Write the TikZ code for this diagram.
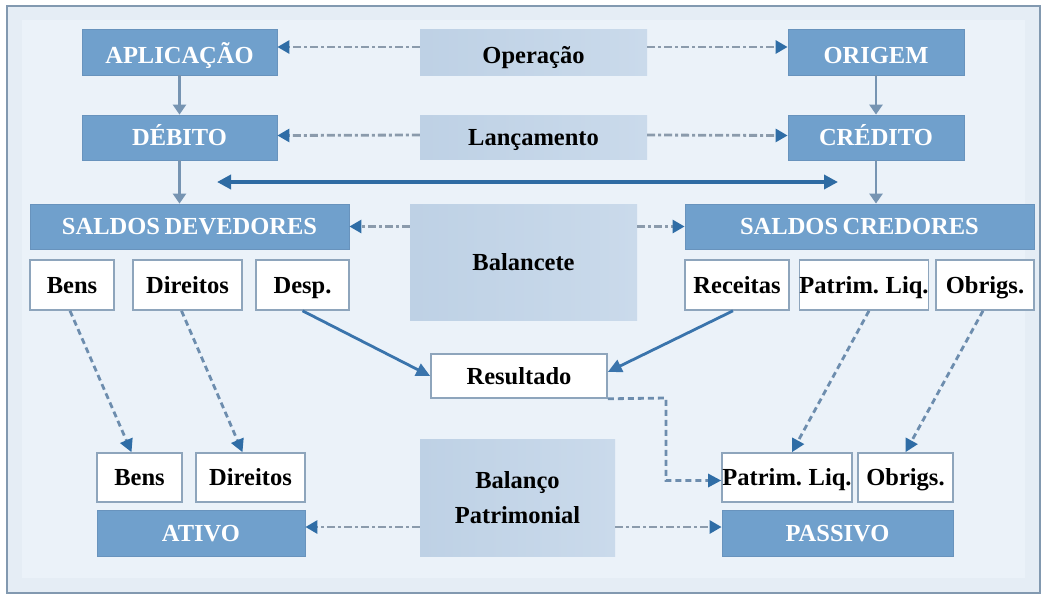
\documentclass[tikz,border=0pt]{standalone}
\usepackage{fontspec}
\setmainfont[WordSpace=0.75]{Liberation Serif}
\usetikzlibrary{arrows.meta,calc}
\definecolor{bgfill}{HTML}{E5EDF5}
\definecolor{bginner}{HTML}{EBF2F9}
\definecolor{frameclr}{HTML}{8299B0}
\definecolor{dkfill}{HTML}{70A0CC}
\definecolor{dkborder}{HTML}{6893BD}
\definecolor{ltleft}{HTML}{BED1E5}
\definecolor{ltright}{HTML}{CADAEB}
\definecolor{wborder}{HTML}{8EA5BC}
\definecolor{grayline}{HTML}{7694B2}
\definecolor{ddline}{HTML}{8B9BAC}
\definecolor{tipblue}{HTML}{2F6DA6}
\definecolor{solidblue}{HTML}{3A74AC}
\definecolor{thickblue}{HTML}{2E6BA3}
\definecolor{dashblue}{HTML}{6D8DAE}
\tikzset{
  base/.style={inner sep=0pt, font=\bfseries\fontsize{24.5}{28}\selectfont, text height=16.5pt, text depth=0pt},
  darkbox/.style={base, fill=dkfill, draw=dkborder, line width=0.8pt, text=white},
  toprow/.style={text height=22pt},
  lightbox/.style={base, left color=ltleft, right color=ltright, draw=none, text=black, align=center},
  whitebox/.style={base, fill=white, draw=wborder, line width=1.6pt, text=black},
  vline/.style={draw=grayline, line width=2.6pt, -{Triangle[width=13pt,length=10pt]}},
  ddarrow/.style={draw=ddline, line width=2.8pt, dash pattern=on 8pt off 3pt on 3pt off 3pt, -{Triangle[width=13pt,length=12pt,color=tipblue]}},
  dsharrow/.style={draw=dashblue, line width=2.8pt, dash pattern=on 6pt off 4pt, -{Triangle[width=13pt,length=13pt,color=tipblue]}},
  solidarrow/.style={draw=solidblue, line width=2.8pt, -{Triangle[width=13pt,length=14pt]}},
  thickarrow/.style={draw=thickblue, line width=3.8pt, {Triangle[width=14pt,length=14pt]}-{Triangle[width=14pt,length=14pt]}}
}
\begin{document}
\begin{tikzpicture}[x=1pt,y=-1pt]
\useasboundingbox (0,0) rectangle (1047,595);
\draw[fill=bgfill, draw=frameclr, line width=1.8pt] (7,6) rectangle (1040,593);
\fill[bginner] (22,20) rectangle (1025,578);
% top row
\node[darkbox, toprow, minimum width=195pt, minimum height=46pt] (apl) at (179.5,52) {APLICAÇÃO};
\node[lightbox, toprow, minimum width=227pt, minimum height=46pt] (oper) at (533.5,52) {Operação};
\node[darkbox, toprow, minimum width=176pt, minimum height=46pt] (orig) at (876,52) {ORIGEM};
% second row
\node[darkbox, minimum width=195pt, minimum height=45pt] (deb) at (179.5,137.5) {DÉBITO};
\node[lightbox, minimum width=227pt, minimum height=44pt] (lanc) at (533.5,137) {Lançamento};
\node[darkbox, minimum width=176pt, minimum height=45pt] (cred) at (876,137.5) {CRÉDITO};
% saldos
\node[darkbox, minimum width=319pt, minimum height=45pt] (sdev) at (189.5,226.5) {SALDOS DEVEDORES};
\node[lightbox, minimum width=227pt, minimum height=116pt] (balt) at (523.5,262) {Balancete};
\node[darkbox, minimum width=349pt, minimum height=45pt] (scred) at (859.5,226.5) {SALDOS CREDORES};
% white boxes row 1
\node[whitebox, minimum width=84pt, minimum height=50pt] (bensa) at (72,285) {Bens};
\node[whitebox, minimum width=109pt, minimum height=50pt] (dira) at (187.5,285) {Direitos};
\node[whitebox, minimum width=93pt, minimum height=50pt] (desp) at (302.5,285) {Desp.};
\node[whitebox, minimum width=104pt, minimum height=50pt] (rec) at (737,285) {Receitas};
\node[whitebox, minimum width=128pt, minimum height=50pt] (pla) at (864,285) {Patrim. Liq.};
\node[whitebox, minimum width=98pt, minimum height=50pt] (obra) at (985,285) {Obrigs.};
% resultado
\node[whitebox, minimum width=176pt, minimum height=44pt] (res) at (519,376) {Resultado};
% bottom
\node[whitebox, minimum width=85pt, minimum height=49pt] (bensb) at (139.5,477.5) {Bens};
\node[whitebox, minimum width=109pt, minimum height=49pt] (dirb) at (250.5,477.5) {Direitos};
\node[darkbox, minimum width=208pt, minimum height=46pt] (ativo) at (201,533) {ATIVO};
\node[lightbox, minimum width=195pt, minimum height=117pt, text height=, text depth=, font=\bfseries\fontsize{24.5}{35}\selectfont] (balp) at (517.5,497.5) {Balanço\\Patrimonial};
\node[whitebox, minimum width=130pt, minimum height=49pt] (plb) at (787,477.5) {Patrim. Liq.};
\node[whitebox, minimum width=95pt, minimum height=49pt] (obrb) at (905.5,477.5) {Obrigs.};
\node[darkbox, minimum width=231pt, minimum height=46pt] (pass) at (837.5,533) {PASSIVO};
% vertical connectors
\draw[vline] (apl) -- (deb);
\draw[vline] (deb) -- (sdev.north -| deb.south);
\draw[vline] (orig) -- (cred);
\draw[vline] (cred) -- (scred.north -| cred.south);
% thick double arrow
\coordinate (dl) at (217,182);
\coordinate (dr) at (838,182);
\draw[thickarrow] (dl) -- (dr);
% dash-dot arrows
\draw[ddarrow] ([yshift=5pt]oper.west) -- ([yshift=5pt]apl.east);
\draw[ddarrow] ([yshift=5pt]oper.east) -- ([yshift=5pt]orig.west);
\draw[ddarrow] ([yshift=2pt]lanc.west) -- ([yshift=2pt]deb.east);
\draw[ddarrow] ([yshift=2pt]lanc.east) -- ([yshift=2pt]cred.west);
\draw[ddarrow] (balt.west |- sdev.east) -- (sdev.east);
\draw[ddarrow] (balt.east |- scred.west) -- (scred.west);
\coordinate (ativoE) at ([yshift=6pt]ativo.east);
\coordinate (passW) at ([yshift=6pt]pass.west);
\draw[ddarrow] (balp.west |- ativoE) -- (ativoE);
\draw[ddarrow] (balp.east |- passW) -- (passW);
% dashed arrows
\draw[dsharrow] ([xshift=-2pt]bensa.south) -- ([xshift=-8pt]bensb.north);
\draw[dsharrow] ([xshift=-6pt]dira.south) -- ([xshift=-8pt]dirb.north);
\draw[dsharrow] ([xshift=5pt]pla.south) -- ([xshift=5pt]plb.north);
\draw[dsharrow] ([xshift=-2pt]obra.south) -- (obrb.north);
\coordinate (rbend) at (666,398);
\draw[dsharrow] (res.south east) -- (rbend) |- ([yshift=-3pt]plb.west);
% solid arrows
\draw[solidarrow] (desp.south) -- (res.west);
\draw[solidarrow] ([xshift=-4pt]rec.south) -- ([yshift=4pt]res.east);
\end{tikzpicture}
\end{document}
